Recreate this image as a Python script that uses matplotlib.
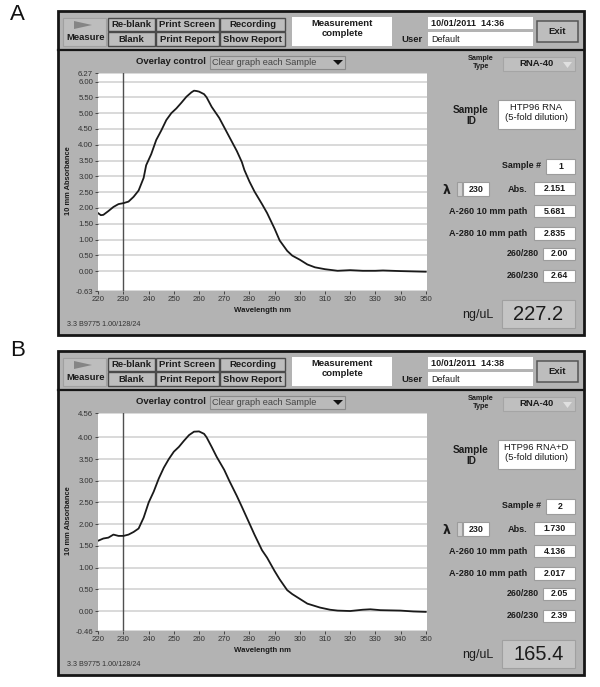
import matplotlib
matplotlib.use("Agg")
import matplotlib.pyplot as plt
from matplotlib.patches import Rectangle, Polygon

plt.rcParams['font.family'] = ['Liberation Sans', 'DejaVu Sans']

W, H = 600, 687

# ---------- data ----------
wavelength_a = [220, 221, 222, 224, 226, 228, 230, 232, 234, 236, 238, 239, 241, 243, 245, 247, 249, 251,
                253, 255, 257, 258, 259, 260, 262, 263, 265, 268, 270, 272, 275, 277, 278, 280, 282, 285, 287,
                290, 292, 295, 297, 300, 303, 306, 310, 315, 320, 325, 330, 333, 340, 345, 350]
absorb_a = [1.83, 1.77, 1.78, 1.90, 2.03, 2.12, 2.151, 2.20, 2.35, 2.55, 2.95, 3.35, 3.70, 4.15, 4.45, 4.78,
            5.00, 5.15, 5.33, 5.52, 5.66, 5.71, 5.70, 5.681, 5.60, 5.50, 5.20, 4.85, 4.55, 4.25, 3.80, 3.45,
            3.20, 2.835, 2.52, 2.12, 1.84, 1.34, 0.97, 0.64, 0.49, 0.36, 0.21, 0.12, 0.06, 0.01, 0.03, 0.01,
            0.01, 0.02, 0.00, -0.01, -0.02]
wavelength_b = [220, 222, 224, 226, 228, 230, 232, 234, 236, 238, 240, 242, 244, 246, 248, 250, 252, 254,
                256, 258, 260, 262, 263, 265, 267, 270, 272, 275, 277, 280, 282, 285, 287, 290, 292, 295, 297,
                300, 303, 308, 312, 315, 320, 325, 328, 332, 340, 345, 350]
absorb_b = [1.62, 1.67, 1.69, 1.76, 1.73, 1.73, 1.76, 1.82, 1.90, 2.15, 2.50, 2.75, 3.05, 3.30, 3.50, 3.67,
            3.78, 3.92, 4.05, 4.13, 4.136, 4.08, 4.00, 3.78, 3.55, 3.25, 3.00, 2.65, 2.40, 2.017, 1.76, 1.40,
            1.23, 0.92, 0.73, 0.48, 0.39, 0.28, 0.17, 0.08, 0.03, 0.01, 0.00, 0.03, 0.04, 0.02, 0.01, -0.01, -0.02]

x_ticks = [220, 230, 240, 250, 260, 270, 280, 290, 300, 310, 320, 330, 340, 350]
y_ticks_a = [-0.63, 0.0, 0.5, 1.0, 1.5, 2.0, 2.5, 3.0, 3.5, 4.0, 4.5, 5.0, 5.5, 6.0, 6.27]
y_ticks_b = [-0.46, 0.0, 0.5, 1.0, 1.5, 2.0, 2.5, 3.0, 3.5, 4.0, 4.56]
y_labels_a = ['-0.63', '0.00', '0.50', '1.00', '1.50', '2.00', '2.50', '3.00', '3.50', '4.00', '4.50', '5.00',
              '5.50', '6.00', '6.27']
y_labels_b = ['-0.46', '0.00', '0.50', '1.00', '1.50', '2.00', '2.50', '3.00', '3.50', '4.00', '4.56']

readings_a = dict(letter='A', stamp='10/01/2011  14:36', sample_id='HTP96 RNA', num='1', abs='2.151',
                  a260='5.681', a280='2.835', r280='2.00', r230='2.64', conc='227.2')
readings_b = dict(letter='B', stamp='10/01/2011  14:38', sample_id='HTP96 RNA+D', num='2', abs='1.730',
                  a260='4.136', a280='2.017', r280='2.05', r230='2.39', conc='165.4')

# ---------- drawing ----------
PANEL = '#b3b3b3'
INK = '#1c1c1c'
BTN = '#bdbdbd'

fig = plt.figure(figsize=(W / 100, H / 100), dpi=100, facecolor='white')
ui = fig.add_axes([0, 0, 1, 1])
ui.set_xlim(0, W)
ui.set_ylim(H, 0)
ui.axis('off')


def box(x0, y0, x1, y1, fc='white', ec='#8c8c8c', lw=0.8, z=2):
    ui.add_patch(Rectangle((x0, y0), x1 - x0, y1 - y0, facecolor=fc, edgecolor=ec, linewidth=lw, zorder=z))


def txt(x, y, s, size=6.8, weight='bold', ha='center', color=INK, **kw):
    ui.text(x, y, s, fontsize=size, fontweight=weight, ha=ha, va='center', color=color, zorder=4, **kw)


def button(x0, y0, x1, y1, s):
    box(x0, y0, x1, y1, fc=BTN, ec='#4a4a4a', lw=1.0)
    txt((x0 + x1) / 2, (y0 + y1) / 2 + 0.3, s)


def panel(dy, letter_y, r, wl, ab, yticks, ylabels):
    ui.text(10, letter_y, r['letter'], fontsize=16, ha='left', va='center', color='#111111')
    box(58, 11 + dy, 584, 335 + dy, fc=PANEL, ec='#161616', lw=2.0, z=1)
    ui.plot([58, 584], [50 + dy, 50 + dy], color='#161616', lw=1.6, zorder=2)

    # toolbar
    box(63, 18 + dy, 106, 46 + dy, fc=BTN, ec='#a0a0a0')
    ui.add_patch(Polygon([(74, 21 + dy), (92, 25 + dy), (74, 29 + dy)], facecolor='#858585', edgecolor='none', zorder=3))
    txt(85.5, 37 + dy, 'Measure', size=6.8)
    button(108, 18 + dy, 155, 31 + dy, 'Re-blank')
    button(108, 32 + dy, 155, 46 + dy, 'Blank')
    button(156, 18 + dy, 219, 31 + dy, 'Print Screen')
    button(156, 32 + dy, 219, 46 + dy, 'Print Report')
    button(220, 18 + dy, 285, 31 + dy, 'Recording')
    button(220, 32 + dy, 285, 46 + dy, 'Show Report')
    box(292, 17 + dy, 392, 46 + dy, ec='none')
    txt(342, 24 + dy, 'Measurement', size=6.8)
    txt(342, 34 + dy, 'complete', size=6.8)
    txt(412, 39 + dy, 'User', size=6.8)
    box(428, 17 + dy, 533, 29 + dy, ec='none')
    txt(431, 23 + dy, r['stamp'], ha='left', size=6.5)
    box(428, 32 + dy, 533, 46 + dy, ec='none')
    txt(431, 39 + dy, 'Default', ha='left', size=6.5, weight='normal')
    box(537, 21 + dy, 578, 42 + dy, fc=BTN, ec='#555555', lw=1.1)
    txt(557, 32 + dy, 'Exit', size=6.8)

    # overlay control
    txt(171, 62 + dy, 'Overlay control', size=6.8)
    box(210, 56 + dy, 345, 69 + dy, fc='#bababa', ec='#8a8a8a')
    txt(264, 62.5 + dy, 'Clear graph each Sample', size=6.6, weight='normal', color='#444444')
    ui.add_patch(Polygon([(333, 60 + dy), (343, 60 + dy), (338, 65 + dy)], facecolor='#111111', edgecolor='none', zorder=3))

    # right column
    txt(481, 58 + dy, 'Sample', size=5.2)
    txt(481, 67 + dy, 'Type', size=5.2)
    box(503, 57 + dy, 575, 71 + dy, fc='#bfbfbf', ec='#a5a5a5')
    txt(536, 64 + dy, 'RNA-40', size=6.8)
    ui.add_patch(Polygon([(563, 62 + dy), (572, 62 + dy), (567.5, 68 + dy)], facecolor='#e0e0e0', edgecolor='none', zorder=3))
    txt(471, 110 + dy, 'Sample', size=7.2)
    txt(471, 121 + dy, 'ID', size=7.2)
    box(498, 100 + dy, 575, 129 + dy, ec='#9c9c9c')
    txt(536.5, 108 + dy, r['sample_id'], size=6.8, weight='normal')
    txt(536.5, 118 + dy, '(5-fold dilution)', size=6.8, weight='normal')
    txt(541, 166 + dy, 'Sample #', size=6.4, ha='right')
    box(546, 159 + dy, 575, 174 + dy, ec='#9c9c9c')
    txt(560.5, 166.5 + dy, r['num'], size=6.4)
    txt(447, 190 + dy, '\u03bb', size=9, family='DejaVu Sans')
    box(457, 182 + dy, 462, 196 + dy, fc='#cfcfcf', ec='#9c9c9c')
    box(463, 182 + dy, 489, 196 + dy, ec='#9c9c9c')
    txt(476, 189.5 + dy, '230', size=6.4)
    txt(528, 189 + dy, 'Abs.', size=6.6, ha='right')
    box(534, 182 + dy, 575, 195 + dy, ec='#9c9c9c')
    txt(554.5, 188.5 + dy, r['abs'], size=6.4)
    txt(527, 211 + dy, 'A-260 10 mm path', size=6.6, ha='right')
    box(534, 205 + dy, 575, 217 + dy, ec='#9c9c9c')
    txt(554.5, 211 + dy, r['a260'], size=6.4)
    txt(527, 233 + dy, 'A-280 10 mm path', size=6.6, ha='right')
    box(534, 227 + dy, 575, 240 + dy, ec='#9c9c9c')
    txt(554.5, 233.5 + dy, r['a280'], size=6.4)
    txt(539, 254 + dy, '260/280', size=6.4, ha='right')
    box(543, 248 + dy, 575, 260 + dy, ec='#9c9c9c')
    txt(559, 254 + dy, r['r280'], size=6.4)
    txt(539, 276 + dy, '260/230', size=6.4, ha='right')
    box(543, 270 + dy, 575, 282 + dy, ec='#9c9c9c')
    txt(559, 276 + dy, r['r230'], size=6.4)
    txt(478, 315 + dy, 'ng/uL', size=9, weight='normal', ha='center')
    box(502, 300 + dy, 575, 328 + dy, fc='#c4c4c4', ec='#a0a0a0')
    txt(538.5, 315 + dy, r['conc'], size=14.5, weight='normal')

    # footer
    txt(67, 324 + dy, '3.3 B9775 1.00/128/24', size=5.2, weight='normal', ha='left', color='#333333')

    # chart
    x0, x1, top, bottom = 98.3, 427, 73 + dy, 291 + dy
    ax = fig.add_axes([x0 / W, 1 - bottom / H, (x1 - x0) / W, (bottom - top) / H], facecolor='white')
    ax.set_xlim(220, 350.5)
    ax.set_ylim(yticks[0], yticks[-1])
    ax.set_xticks(x_ticks)
    ax.set_yticks(yticks)
    ax.set_yticklabels(ylabels)
    ax.tick_params(axis='both', length=2.2, width=0.7, color='#444444', labelsize=5.6, labelcolor='#333333', pad=1.5)
    ax.grid(axis='y', color='#cfcfcf', lw=1.1)
    ax.set_axisbelow(True)
    for s in ax.spines.values():
        s.set_visible(False)
    ax.axvline(230, color='#505050', lw=1.0, zorder=2)
    ax.plot(wl, ab, color='#1a1a1a', lw=1.3, zorder=3, solid_joinstyle='round')
    txt(262, 310.5 + dy, 'Wavelength nm', size=5.6)
    ui.text(69, 181 + dy, '10 mm Absorbance', fontsize=5.4, fontweight='bold', rotation=90, ha='center', va='center',
            color=INK, zorder=4)


panel(0, 15, readings_a, wavelength_a, absorb_a, y_ticks_a, y_labels_a)
panel(340, 350, readings_b, wavelength_b, absorb_b, y_ticks_b, y_labels_b)

fig.savefig('out.png', dpi=100, facecolor='white')
